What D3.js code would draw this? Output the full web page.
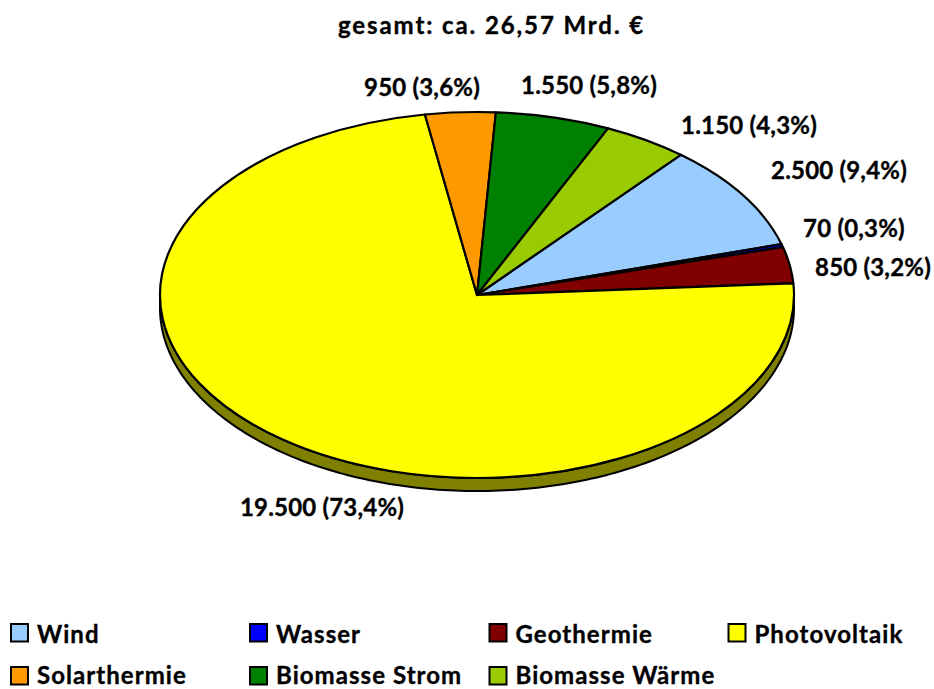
<!DOCTYPE html>
<html><head><meta charset="utf-8">
<script src="https://cdn.jsdelivr.net/npm/d3@7"></script>
<style>html,body{margin:0;background:#fff}svg{display:block}text{font-family:Lato,sans-serif;font-weight:700;fill:#000;stroke:#000;stroke-width:.35px}</style>
</head><body><svg id="c" width="934" height="689"></svg>
<script>
const categories=["Wind","Wasser","Geothermie","Photovoltaik","Solarthermie","Biomasse Strom","Biomasse Wärme"];
const values=[2500,70,850,19500,950,1550,1150];
const valueLabels=["2.500 (9,4%)","70 (0,3%)","850 (3,2%)","19.500 (73,4%)","950 (3,6%)","1.550 (5,8%)","1.150 (4,3%)"];
const colors=["#99ccff","#0000ff","#800000","#ffff00","#ff9900","#008000","#99cc00"];
const sideColor="#808000";
const labelPos=[[839,171],[854,229],[873,268],[322,508],[422,88],[589,86],[749,126]];
const legendCols=[10,249,488.5,727.5],legendRows=[633,676];
const title="gesamt: ca. 26,57 Mrd. €";

const svg=d3.select("#c");
const cx=477,cy=295,rx=317,ry=183,depth=13,start=40*Math.PI/180;
const pie=d3.pie().sort(null).startAngle(start).endAngle(start+2*Math.PI);
const arcs=pie(values);
const arc=d3.arc().innerRadius(0).outerRadius(rx);
const px=a=>cx+rx*Math.sin(a),py=a=>cy-ry*Math.cos(a);

// side wall: lower half of the ellipse, pushed down by depth
const lower=d3.range(Math.PI/2,3*Math.PI/2+.001,Math.PI/180);
svg.append("path").attr("d",d3.area().x(px).y0(py).y1(a=>py(a)+depth)(lower))
  .attr("fill",sideColor).attr("stroke","#000").attr("stroke-width",2).attr("stroke-linejoin","round");

const g=svg.append("g").attr("transform",`translate(${cx},${cy}) scale(1,${ry/rx})`);
g.selectAll("path").data(arcs).join("path").attr("d",arc)
  .attr("fill",(d,i)=>colors[i]).attr("stroke","#000").attr("stroke-width",2.2)
  .attr("stroke-linejoin","round").attr("vector-effect","non-scaling-stroke");

svg.append("text").attr("x",491.5).attr("y",33.5).attr("text-anchor","middle").attr("font-size",24)
  .attr("letter-spacing",1.9).text(title);
svg.selectAll(".v").data(valueLabels).join("text").attr("class","v")
  .attr("x",(d,i)=>labelPos[i][0]).attr("y",(d,i)=>labelPos[i][1]+8)
  .attr("text-anchor","middle").attr("font-size",24).attr("letter-spacing",.2).text(d=>d);

const leg=svg.selectAll(".l").data(categories).join("g").attr("class","l")
  .attr("transform",(d,i)=>`translate(${legendCols[i%4]},${legendRows[Math.floor(i/4)]})`);
leg.append("rect").attr("x",1).attr("y",-9).attr("width",17).attr("height",17.5)
  .attr("fill",(d,i)=>colors[i]).attr("stroke","#000").attr("stroke-width",2);
leg.append("text").attr("x",27).attr("y",(d,i)=>i<4?10:7.5).attr("font-size",24).attr("letter-spacing",1.05).text(d=>d);
</script></body></html>
